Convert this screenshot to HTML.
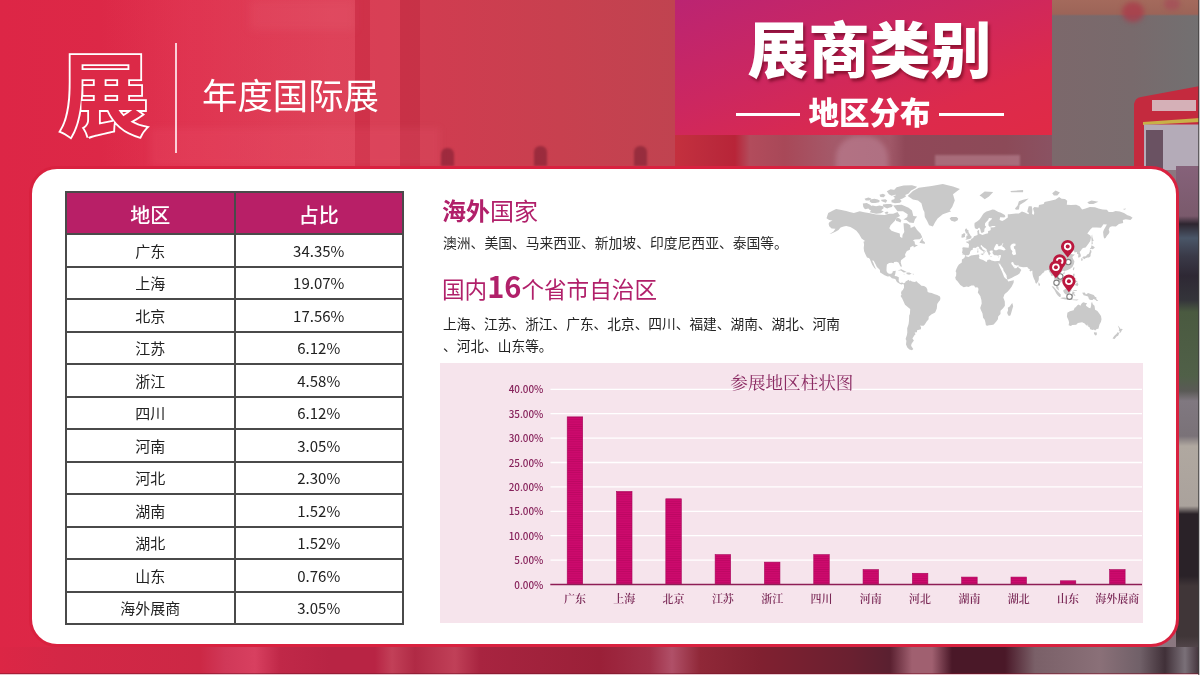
<!DOCTYPE html>
<html lang="zh-CN">
<head>
<meta charset="utf-8">
<title>展商类别 - 地区分布</title>
<style>
*{margin:0;padding:0;box-sizing:border-box;}
html,body{width:1200px;height:675px;overflow:hidden;background:#d8304a;}
body{position:relative;font-family:"Liberation Sans","Noto Sans CJK SC",sans-serif;}
.abs{position:absolute;}
#bg{left:0;top:0;width:1200px;height:675px;overflow:hidden;
 background:linear-gradient(90deg,#dd2646 0px,#dc2a48 200px,#d83850 330px,#d03c50 430px,#c8404f 560px,#c04350 675px,#b0545f 800px,#9a6a74 950px,#8e7680 1060px,#8a7880 1200px);}
.bgpart{position:absolute;}
.pillar{position:absolute;top:0;height:170px;}
#title-box{left:675px;top:0;width:377px;height:135px;
 background:linear-gradient(160deg,#bb2472 0%,#cc2760 40%,#dc2a4c 75%,#e02a46 100%);}
#title-main{left:681px;top:1.5px;width:377px;text-align:center;color:#fff;font-family:"Noto Sans CJK SC",sans-serif;font-weight:900;font-size:61px;line-height:90px;letter-spacing:0px;text-shadow:2px 3px 3px rgba(90,0,20,.55);}
#title-sub{left:681px;top:91px;width:377px;text-align:center;color:#fff;font-family:"Noto Sans CJK SC",sans-serif;font-weight:900;font-size:30.5px;line-height:40px;}
.tline{position:absolute;height:3px;background:#fff;top:113px;}
#big-zhan{left:57px;top:23px;font-family:"Noto Sans CJK SC",sans-serif;font-weight:700;font-size:94px;line-height:130px;color:transparent;-webkit-text-stroke:1.9px #fff;}
#vline{left:175px;top:43px;width:1.5px;height:110px;background:rgba(255,235,240,.85);}
#sub-title{left:202px;top:68.5px;font-family:"Noto Sans CJK SC",sans-serif;font-weight:400;font-size:35.4px;line-height:50px;color:#fff;}
#card{left:29px;top:166px;width:1150px;height:481px;background:#fff;border:3px solid #d9213f;border-radius:28px;}
table{position:absolute;left:65px;top:191px;border-collapse:collapse;font-family:"Noto Sans CJK SC",sans-serif;}
td,th{border:2px solid #4a4a4a;text-align:center;font-size:15px;color:#222;height:32.5px;padding:0;font-weight:400;}
th{background:#b81f67;color:#fff;font-size:20px;height:42px;font-weight:500;padding-top:2px;}
.c1{width:168.5px;}.c2{width:168.5px;}
.magenta{color:#b1206a;}
#h-overseas{left:442px;top:192px;font-family:"Noto Sans CJK SC",sans-serif;font-size:24px;line-height:36px;color:#b1206a;}
#h-overseas b{font-weight:700;}
#p-overseas{left:443px;top:232px;font-family:"Noto Sans CJK SC",sans-serif;font-size:13.8px;white-space:nowrap;line-height:20px;color:#2a2a2a;}
#h-domestic{left:442px;top:266px;font-family:"Noto Sans CJK SC",sans-serif;font-size:22.6px;white-space:nowrap;line-height:38px;color:#b1206a;}
#h-domestic b{font-size:29px;font-weight:700;}
#p-domestic{left:443px;top:311.5px;white-space:nowrap;font-family:"Noto Sans CJK SC",sans-serif;font-size:13.7px;line-height:22px;color:#222;}
#chart{left:440px;top:362.5px;width:703px;height:260px;background:#f6e4ec;}
#map{left:0;top:0;}
</style>
</head>
<body>
<div id="bg" class="abs">
 <div class="bgpart" style="left:100px;top:0;width:255px;height:166px;background:linear-gradient(90deg,rgba(236,90,112,0) 0%,rgba(236,90,112,.22) 35%,rgba(236,90,112,.3) 100%)"></div>
 <div class="bgpart" style="left:250px;top:0;width:105px;height:30px;background:rgba(240,120,140,.12);filter:blur(4px)"></div>
 <div class="bgpart" style="left:355px;top:0;width:15px;height:166px;background:rgba(185,25,50,.22)"></div>
 <div class="bgpart" style="left:370px;top:0;width:30px;height:166px;background:rgba(236,90,112,.18)"></div>
 <div class="bgpart" style="left:400px;top:0;width:20px;height:166px;background:rgba(170,20,45,.25)"></div>
 <div class="bgpart" style="left:150px;top:128px;width:290px;height:38px;background:rgba(240,110,130,.13);filter:blur(3px)"></div>
 <div class="bgpart" style="left:441px;top:148px;width:13px;height:18px;border-radius:6px 6px 0 0;background:rgba(100,20,40,.45);filter:blur(1px)"></div>
 <div class="bgpart" style="left:534px;top:146px;width:13px;height:20px;border-radius:6px 6px 0 0;background:rgba(100,20,40,.45);filter:blur(1px)"></div>
 <div class="bgpart" style="left:634px;top:146px;width:13px;height:20px;border-radius:6px 6px 0 0;background:rgba(100,20,40,.45);filter:blur(1px)"></div>
 <div class="bgpart" style="left:1052px;top:0;width:148px;height:166px;background:linear-gradient(180deg,#a46a5c 0px,#9c6458 14px,rgba(0,0,0,0) 16px),linear-gradient(90deg,#7c686b 0px,#786a6c 80px,#727071 148px)"></div>
 <div class="bgpart" style="left:1122px;top:2px;width:22px;height:20px;border-radius:10px;background:rgba(170,60,75,.8);filter:blur(2.5px)"></div>
 <div class="bgpart" style="left:1164px;top:-2px;width:16px;height:12px;border-radius:6px;background:rgba(165,75,88,.7);filter:blur(2px)"></div>
 <svg class="bgpart" style="left:1120px;top:80px" width="80" height="90" viewBox="1120 80 80 90">
  <path d="M1134 170 L1134 104 Q1135 98 1141 97 L1200 86 L1200 170 Z" fill="#c42a3e"/>
  <rect x="1152" y="100" width="44" height="11" fill="#d8c8cc" opacity=".85"/>
  <path d="M1143 122 L1200 118 L1200 122 L1143 125 Z" fill="#c8b048"/>
  <rect x="1144" y="124.5" width="56" height="46" fill="#b4abb8"/>
  <rect x="1146" y="130" width="17" height="40" fill="#6a5262"/>
 </svg>
 <div class="bgpart" style="left:675px;top:135px;width:377px;height:31px;background:linear-gradient(90deg,#c4303e 0px,#bb2a3c 35px,#b82438 60px,#b24c5c 75px,#a84858 110px,#a45a6a 160px,#a05868 215px,#904858 230px,#8c4a58 330px,#8a5262 377px)"></div>
 <div class="bgpart" style="left:836px;top:136px;width:52px;height:40px;border-radius:22px 22px 4px 4px;background:rgba(200,150,170,.4);filter:blur(2.5px)"></div>
 <div class="bgpart" style="left:935px;top:155px;width:85px;height:11px;background:rgba(200,150,165,.45);filter:blur(1px)"></div>
  <div class="bgpart" style="left:1176px;top:166px;width:24px;height:481px;background:linear-gradient(180deg,#86627a 0px,#7a5a6c 50px,#2e2630 58px,#4a5668 72px,#3a3a48 90px,#2e2834 110px,#34343a 134px,#4a5a40 146px,#506048 210px,#5a5a56 225px,#807880 235px,#7a7278 270px,#b0a8a0 280px,#aaa29c 340px,#2a2228 348px,#2a2228 410px,#403638 420px,#403638 470px,#504448 481px)"></div>
 <div class="bgpart" style="left:0;top:647px;width:1200px;height:28px;background:linear-gradient(90deg,#dc2645 0px,#d42746 60px,#cc2845 200px,#d03858 225px,#d84060 255px,#c02848 280px,#b82444 330px,#b82444 375px,#c24058 392px,#b02a45 415px,#c04058 455px,#a82440 480px,#9a2038 600px,#a03048 650px,#b05068 672px,#902838 700px,#802030 760px,#6a2030 850px,#5a2030 890px,#a06070 912px,#a06070 932px,#4a1828 952px,#4a1828 1005px,#7a6068 1035px,#8a7078 1100px,#706068 1140px,#403038 1165px,#7a7078 1185px,#403038 1200px)"></div>
 <div class="bgpart" style="left:0;top:673px;width:1200px;height:1px;background:rgba(120,20,40,.5)"></div>
 <div class="bgpart" style="left:0;top:674px;width:1200px;height:1px;background:#e8c8d0"></div>
 <div class="bgpart" style="left:1198px;top:0;width:1px;height:675px;background:rgba(60,60,60,.7)"></div>
 <div class="bgpart" style="left:1199px;top:0;width:1px;height:675px;background:#c4c2c4"></div>
</div>
<div id="title-box" class="abs"></div>
<div id="title-main" class="abs">展商类别</div>
<div class="tline" style="left:735.5px;width:64px"></div>
<div class="tline" style="left:939px;width:65px"></div>
<div id="title-sub" class="abs">地区分布</div>
<svg class="abs" style="left:0;top:0" width="200" height="170" viewBox="0 0 200 170"><text id="zhan-svg" x="59" y="127.5" font-family="Noto Sans CJK SC, sans-serif" font-weight="700" font-size="90" fill="#dc2947" stroke="#ffffff" stroke-width="3.6" stroke-linejoin="miter" paint-order="stroke">展</text></svg>
<div id="vline" class="abs"></div>
<div id="sub-title" class="abs">年度国际展</div>
<div id="card" class="abs"></div>
<table>
<tr><th class="c1">地区</th><th class="c2">占比</th></tr>
<tr><td>广东</td><td>34.35%</td></tr>
<tr><td>上海</td><td>19.07%</td></tr>
<tr><td>北京</td><td>17.56%</td></tr>
<tr><td>江苏</td><td>6.12%</td></tr>
<tr><td>浙江</td><td>4.58%</td></tr>
<tr><td>四川</td><td>6.12%</td></tr>
<tr><td>河南</td><td>3.05%</td></tr>
<tr><td>河北</td><td>2.30%</td></tr>
<tr><td>湖南</td><td>1.52%</td></tr>
<tr><td>湖北</td><td>1.52%</td></tr>
<tr><td>山东</td><td>0.76%</td></tr>
<tr><td>海外展商</td><td>3.05%</td></tr>
</table>
<div id="h-overseas" class="abs"><b>海外</b>国家</div>
<div id="p-overseas" class="abs">澳洲、美国、马来西亚、新加坡、印度尼西亚、泰国等。</div>
<div id="h-domestic" class="abs">国内<b>16</b>个省市自治区</div>
<div id="p-domestic" class="abs">上海、江苏、浙江、广东、北京、四川、福建、湖南、湖北、河南<br>、河北、山东等。</div>
<svg id="map" class="abs" width="1200" height="675" viewBox="0 0 1200 675">
<path fill="#c9c9c9" d="M826.5 218.3L828.2 213.1L832.5 210.7L836.1 209.0L840.2 209.8L846.2 211.0L849.6 211.9L853.9 212.9L859.8 211.2L864.1 212.2L870.1 213.2L876.1 214.5L884.6 214.9L888.9 213.7L893.2 213.7L897.5 212.1L900.0 216.1L896.6 217.7L894.9 220.8L890.6 225.2L889.3 228.3L891.5 230.8L894.9 232.1L899.8 233.4L900.0 236.7L902.2 237.9L902.6 234.8L904.3 232.1L903.9 228.7L903.5 223.3L906.9 223.3L910.3 225.2L910.7 228.0L914.6 226.2L917.1 230.1L920.5 233.4L922.3 237.3L919.7 239.2L914.6 239.6L912.9 240.7L914.6 241.6L915.0 244.4L918.0 245.2L913.9 247.4L913.3 245.8L910.3 247.3L909.8 249.7L906.9 251.0L905.6 253.2L905.0 254.8L905.6 256.8L903.5 258.2L901.0 260.2L900.7 262.5L901.7 265.8L901.4 267.2L900.2 266.0L899.4 264.3L898.5 262.4L896.6 261.8L894.0 261.9L893.7 263.3L891.5 262.7L889.1 262.9L886.9 264.5L886.6 267.4L886.5 270.4L887.0 272.3L888.9 273.7L891.1 273.7L892.3 273.1L892.8 271.3L895.8 270.8L895.3 273.8L894.6 276.0L896.6 276.2L898.8 277.2L898.7 281.1L900.0 283.0L902.2 282.6L903.9 283.4L904.1 284.1L903.0 283.9L901.3 284.6L899.6 283.7L896.9 282.0L895.3 279.1L891.9 278.2L889.8 276.2L887.6 276.5L884.6 275.3L879.9 272.3L880.1 270.8L879.5 269.4L876.9 266.9L875.7 264.5L873.7 260.7L872.1 260.5L873.5 263.3L874.4 265.8L876.1 269.4L874.4 267.9L872.2 264.8L870.5 260.7L869.8 259.1L868.8 258.1L867.0 257.4L865.4 254.3L864.1 251.2L863.7 248.1L864.1 244.4L863.5 241.8L865.0 241.0L861.6 238.6L859.0 234.1L856.4 230.8L853.4 228.7L850.4 227.1L846.2 226.1L843.6 226.6L840.6 227.6L838.5 230.1L835.9 231.5L831.6 233.4L829.5 234.1L833.3 231.7L835.5 228.7L831.6 228.6L829.2 226.2L828.6 223.8L829.5 222.0L832.5 220.5L829.1 220.0ZM907.7 196.0L912.9 191.1L918.8 187.7L931.7 185.9L942.8 184.0L953.0 186.6L959.9 188.9L953.0 194.3L954.8 200.4L952.2 206.9L949.6 210.4L951.3 211.2L942.8 214.2L937.6 218.5L935.1 222.3L932.9 226.6L929.1 225.2L927.0 220.8L924.8 216.9L924.4 212.1L923.1 209.5L921.4 203.2L918.0 200.4L912.9 199.4ZM901.7 204.7L908.6 207.8L912.0 210.4L913.3 216.1L917.1 216.5L915.0 219.3L913.7 223.0L909.4 222.6L906.4 220.0L903.5 219.6L907.3 216.9L907.7 214.2L903.0 211.2L897.5 211.2L893.2 205.6L897.5 205.1ZM893.2 190.9L896.6 187.3L903.5 185.4L912.0 185.2L917.1 186.8L915.4 188.2L911.1 190.4L908.6 193.5L905.2 194.9L906.0 196.4L902.6 198.6L899.2 199.8L894.0 199.6L894.9 197.8L893.2 196.4L896.2 195.1L890.6 193.3ZM891.5 200.0L894.9 199.0L900.0 199.6L901.7 201.1L900.0 202.8L894.9 203.2L891.5 202.3ZM868.4 208.5L869.7 206.3L872.7 205.4L876.1 206.2L879.5 205.4L882.9 206.2L883.8 208.1L881.2 210.2L883.8 211.4L880.8 213.2L876.1 213.7L872.7 213.1L869.7 212.2L871.0 210.5L869.2 209.5ZM862.8 203.4L866.7 203.0L870.5 204.9L871.4 206.5L868.4 208.6L865.0 209.2L863.3 207.0ZM870.1 199.6L874.4 198.8L877.8 199.6L879.9 200.7L879.1 202.3L875.2 203.0L871.8 203.0L869.7 201.7ZM864.5 198.8L868.4 197.4L871.4 198.6L869.2 200.4L865.8 200.6ZM881.2 199.8L885.5 199.2L887.2 200.6L885.9 202.8L883.8 201.9L881.4 201.1ZM879.5 194.7L882.9 193.7L885.5 195.1L883.8 197.2L880.4 197.0ZM882.9 204.5L886.8 204.1L890.6 204.0L892.8 204.9L891.9 207.0L888.9 207.8L887.2 208.5L885.1 207.4L882.9 206.3ZM884.6 212.4L887.2 211.4L888.5 212.6L887.2 213.9L885.1 213.5ZM895.8 219.3L897.0 217.7L899.2 218.2L901.3 220.3L900.5 222.6L898.3 221.5L896.2 220.9ZM886.8 191.3L890.6 189.3L894.9 190.0L896.6 192.6L894.5 195.1L891.5 195.8L888.9 194.3ZM919.4 242.7L922.7 237.8L922.8 240.4L924.8 242.3L925.1 243.8L922.7 243.6ZM897.6 270.5L901.3 269.2L904.3 270.7L906.7 272.1L903.7 272.4L900.9 270.6ZM906.5 272.4L909.4 272.4L911.7 273.7L909.1 274.7L906.5 273.9ZM903.2 273.9L905.0 274.2L904.3 274.6ZM912.7 273.8L914.1 274.0L913.7 274.4L912.7 274.3ZM904.0 283.2L905.2 282.5L905.6 281.4L906.9 280.8L909.0 279.7L909.3 281.1L908.9 281.5L910.3 280.5L912.0 281.4L914.6 281.9L916.7 281.3L918.0 283.0L919.0 283.6L921.4 285.8L924.0 286.0L925.7 287.0L926.5 287.7L927.4 289.8L927.4 291.5L928.7 292.4L931.7 292.9L934.7 294.2L937.2 295.0L940.0 296.4L940.4 298.3L940.1 300.0L938.5 301.9L937.2 303.9L936.8 308.4L935.9 310.7L935.1 312.6L933.2 313.6L931.3 314.4L928.7 316.7L928.6 319.2L926.5 321.8L924.8 324.4L923.5 325.8L921.8 325.8L920.1 325.5L921.1 327.4L920.9 329.3L917.1 330.3L916.9 332.3L914.6 332.6L915.6 334.2L914.6 335.1L912.4 338.4L913.9 340.5L911.7 343.4L911.1 345.2L911.5 346.4L913.3 348.9L912.0 350.2L909.4 349.6L907.3 347.6L906.0 344.4L906.4 340.7L905.6 338.9L906.9 334.9L907.3 332.6L907.2 328.2L908.6 323.9L909.0 320.7L909.2 315.6L909.9 314.1L910.2 309.0L908.6 307.7L905.0 304.8L903.8 301.9L902.2 298.6L900.6 295.9L901.5 294.7L901.0 292.9L901.7 290.7L902.7 290.2L904.0 287.7L904.0 285.3L903.5 284.6ZM965.1 256.1L968.4 256.9L971.0 255.4L974.4 255.0L978.5 254.5L979.5 254.8L978.9 255.9L979.6 256.8L978.7 257.8L980.0 259.0L983.1 259.9L986.4 261.9L987.3 261.0L987.2 260.1L989.8 259.5L991.5 260.6L994.9 261.3L997.8 260.9L999.4 260.9L1000.0 262.8L999.4 264.5L998.0 262.4L999.0 265.1L1000.5 268.4L1001.9 271.3L1003.1 274.3L1004.1 277.1L1005.8 278.8L1007.2 279.6L1008.2 281.6L1010.3 281.0L1013.9 280.3L1013.7 281.5L1013.6 282.8L1011.6 286.8L1009.5 289.6L1007.3 292.0L1005.6 293.2L1004.4 294.6L1003.3 297.7L1003.9 299.1L1004.8 301.5L1004.9 305.8L1003.1 308.2L1000.5 310.7L1000.5 314.1L998.2 316.6L997.9 319.2L996.5 321.3L993.7 324.4L991.9 324.9L989.0 325.2L987.2 325.8L985.9 325.2L985.5 322.8L984.7 319.7L983.1 317.7L982.5 313.6L980.8 309.7L980.2 307.9L981.7 303.4L981.4 300.0L980.6 297.2L980.4 296.2L977.8 292.4L978.3 290.6L978.5 288.7L977.4 287.2L975.3 287.4L974.0 285.5L971.4 285.6L968.4 287.0L966.7 286.6L963.7 287.3L962.2 286.3L960.3 285.0L958.8 283.1L957.3 281.1L955.9 279.7L955.2 277.5L956.1 275.8L956.3 272.8L955.6 271.3L956.5 268.7L957.7 266.3L958.9 264.6L961.8 262.6L961.9 259.6L964.3 257.9ZM1012.3 302.9L1013.2 306.3L1012.7 307.7L1011.2 313.1L1010.4 315.5L1008.8 316.1L1007.5 314.1L1007.2 312.4L1008.1 310.2L1007.8 307.7L1009.7 306.6L1011.2 304.3ZM965.4 255.9L964.7 255.0L963.8 254.6L962.5 254.8L962.6 253.0L962.0 252.9L962.6 249.8L962.2 248.1L963.3 247.3L965.9 247.6L968.6 247.7L969.1 244.6L968.2 243.2L966.3 242.4L966.3 241.5L968.8 241.4L968.5 240.2L970.3 240.4L971.5 238.7L973.1 237.9L974.0 236.2L976.1 235.4L977.6 234.9L977.5 232.8L977.2 231.0L979.1 229.8L979.1 232.0L979.4 233.7L980.8 234.2L982.4 234.9L986.0 233.7L988.1 233.2L988.1 231.0L990.2 230.5L990.9 228.9L990.2 227.6L994.1 227.3L995.8 226.6L994.5 225.9L992.4 226.1L989.7 226.9L988.4 225.2L988.6 222.3L991.7 219.3L992.0 218.2L989.0 218.0L988.1 220.0L986.4 221.8L985.1 223.3L984.9 225.6L986.2 226.8L984.5 228.7L984.2 231.7L982.4 232.8L981.2 232.8L980.8 231.5L980.2 229.1L979.1 227.6L977.2 229.3L974.9 228.2L974.4 225.2L974.6 223.0L977.4 221.2L979.5 219.4L981.3 216.9L982.5 214.9L983.8 213.2L986.4 211.6L989.8 210.4L992.4 209.5L994.5 209.7L996.6 210.9L998.4 212.1L1000.9 212.7L1004.8 214.9L1005.4 216.5L1004.3 217.4L1000.1 217.2L999.6 220.0L1002.2 221.1L1004.3 220.0L1007.8 217.4L1007.8 214.2L1009.5 214.2L1015.9 213.5L1018.9 213.5L1021.9 211.6L1024.9 212.6L1028.3 214.2L1029.1 213.1L1027.3 211.9L1027.7 209.8L1028.7 206.3L1031.7 206.3L1032.4 209.5L1032.1 213.7L1033.4 214.9L1034.3 212.9L1033.0 208.5L1034.3 206.9L1038.5 207.4L1039.0 204.9L1043.7 204.1L1044.5 202.1L1051.4 200.4L1055.6 199.4L1059.1 197.0L1061.6 198.8L1065.0 199.0L1067.2 200.7L1066.8 204.7L1071.0 205.1L1076.2 204.7L1079.6 206.3L1082.1 209.5L1085.6 208.5L1089.8 207.0L1095.0 207.2L1098.4 208.6L1102.7 209.5L1106.9 209.8L1108.7 211.9L1112.9 211.9L1115.5 211.0L1119.8 211.6L1124.0 213.1L1127.5 215.3L1130.0 216.1L1132.6 217.7L1130.5 220.0L1125.8 219.3L1122.8 220.0L1123.2 223.0L1118.9 224.1L1115.9 226.6L1112.1 226.2L1109.9 226.9L1108.7 229.4L1109.5 231.9L1108.7 233.7L1106.9 235.8L1105.6 237.9L1104.1 238.6L1103.5 236.0L1103.1 232.1L1103.9 229.7L1106.9 224.5L1103.5 224.3L1101.0 227.8L1096.7 227.6L1092.4 227.6L1090.3 229.4L1087.3 233.4L1090.3 235.4L1091.0 237.3L1090.3 241.0L1088.6 243.5L1085.6 247.6L1083.0 247.9L1081.9 248.9L1081.0 250.4L1079.6 251.9L1080.8 254.8L1080.8 256.5L1079.2 257.4L1078.1 257.5L1078.4 254.3L1077.2 254.0L1076.8 252.0L1074.5 252.6L1074.0 250.6L1071.9 252.4L1070.8 253.2L1071.7 254.3L1074.9 254.4L1072.3 257.0L1073.4 259.5L1074.4 261.3L1074.0 263.8L1072.4 266.9L1070.2 268.8L1067.2 270.2L1064.6 271.1L1064.4 272.0L1063.9 270.8L1062.5 270.8L1061.3 272.1L1060.5 273.6L1061.6 275.3L1063.2 276.9L1063.6 280.1L1063.3 280.7L1061.6 281.6L1059.9 283.3L1059.7 281.7L1058.2 281.1L1057.8 279.8L1056.4 279.4L1055.6 278.7L1055.0 281.7L1055.9 283.6L1056.5 285.1L1057.5 285.6L1058.5 287.2L1058.6 288.9L1059.3 290.2L1058.6 290.3L1056.8 288.8L1056.0 286.9L1055.8 285.4L1054.2 283.7L1054.4 281.5L1054.4 279.1L1053.7 275.8L1052.6 275.7L1051.0 275.8L1050.8 274.0L1049.7 272.4L1049.1 271.6L1048.6 270.1L1047.6 269.9L1046.2 270.6L1044.5 270.8L1044.1 272.3L1042.7 273.0L1040.5 275.6L1038.8 276.4L1038.8 278.9L1038.4 281.1L1037.9 281.7L1037.0 283.1L1036.4 283.8L1035.5 283.1L1034.9 280.6L1034.0 279.1L1033.0 276.2L1032.4 273.3L1032.4 271.2L1032.2 270.5L1030.3 271.5L1029.2 270.1L1030.4 269.4L1028.6 268.8L1027.2 267.0L1023.1 267.2L1019.2 266.6L1018.4 265.2L1016.3 265.6L1014.2 264.4L1013.0 262.0L1011.6 262.3L1011.2 263.3L1011.9 264.7L1013.1 266.1L1013.6 267.6L1014.3 266.2L1014.2 268.2L1016.3 268.3L1018.4 266.0L1018.4 267.5L1020.2 268.8L1021.3 270.0L1020.2 271.9L1019.5 273.4L1017.4 275.0L1014.6 276.2L1012.0 277.7L1008.6 279.3L1007.3 279.4L1006.7 277.2L1006.6 275.5L1005.0 272.8L1003.6 270.8L1003.1 268.6L1001.9 266.9L1000.2 264.2L1000.0 262.8L999.4 260.9L1000.1 259.1L1000.8 256.8L1001.1 255.3L999.8 255.0L997.9 255.8L996.3 255.2L994.5 255.2L993.5 254.4L992.6 253.2L992.5 252.1L993.0 251.1L992.4 250.6L990.7 250.6L989.8 251.2L989.5 251.0L989.7 252.2L990.7 253.5L989.8 254.4L989.4 255.5L988.7 254.9L988.2 253.4L987.4 252.0L986.7 251.1L986.7 249.5L986.0 248.8L984.7 247.9L983.1 246.7L981.9 245.7L981.7 245.0L980.7 245.3L980.8 246.7L981.8 247.6L982.6 249.2L983.9 250.0L986.0 251.3L985.8 251.7L984.7 251.0L984.2 252.1L984.8 252.7L983.8 253.7L983.5 253.4L983.6 251.5L982.5 250.9L980.8 249.8L979.5 248.7L978.9 247.1L977.7 246.5L976.6 247.2L975.4 248.0L974.1 247.7L972.8 248.0L972.9 249.4L970.9 250.4L970.1 252.1L969.9 253.2L969.5 254.2L968.3 255.2L966.4 255.2ZM965.3 239.7L967.1 239.4L969.3 238.9L971.3 238.3L971.6 236.4L970.4 235.5L970.0 234.5L968.8 232.7L968.3 230.8L968.6 230.0L967.1 229.8L966.7 228.6L965.9 228.6L964.8 230.1L965.4 231.7L966.0 233.4L967.6 233.6L967.2 234.4L967.7 235.7L966.2 235.7L966.5 236.9L965.6 237.6L967.2 238.1L966.5 238.3ZM965.0 237.1L964.9 235.4L965.4 234.0L964.0 233.0L962.9 234.0L961.6 234.5L961.7 235.5L961.3 237.2L962.0 237.8L963.3 237.6ZM951.3 220.8L949.6 218.5L951.3 217.1L956.5 216.9L958.2 218.5L957.7 220.2L954.8 221.7ZM977.3 250.4L978.4 250.4L978.3 252.4L977.4 252.7ZM978.0 248.1L978.3 249.0L978.0 250.0L977.5 249.6ZM980.7 253.7L983.5 253.5L983.1 255.2L980.7 254.2ZM990.2 256.3L992.6 256.8L990.7 257.1ZM997.8 257.0L999.7 256.2L998.4 257.4ZM1082.1 258.1L1083.4 256.6L1086.0 256.3L1087.1 254.6L1088.6 254.0L1089.8 251.7L1089.8 250.2L1091.1 250.0L1091.5 252.1L1090.7 253.7L1090.5 256.2L1089.7 257.1L1088.8 257.4L1087.3 257.4L1085.7 258.3L1083.0 258.3ZM1081.0 258.6L1082.1 258.2L1082.8 259.6L1082.1 261.0L1081.5 260.9ZM1083.4 258.2L1085.2 257.8L1085.0 258.8L1083.9 259.3ZM1089.8 249.8L1090.9 248.8L1092.7 249.3L1094.8 247.7L1094.1 246.7L1091.5 245.2L1091.0 247.8L1090.2 247.9ZM1091.5 244.6L1092.8 244.1L1092.4 241.0L1093.7 241.0L1092.4 237.3L1092.1 234.4L1091.7 235.4L1091.3 237.9L1091.7 241.6ZM1073.6 267.2L1074.5 267.4L1074.0 269.4L1073.4 270.5L1072.8 269.4ZM1063.0 273.1L1064.6 272.2L1065.0 272.7L1064.2 274.1L1063.1 273.8ZM1038.4 282.2L1039.6 283.4L1040.1 284.9L1039.1 285.9L1038.5 285.3ZM1073.3 273.8L1074.6 273.8L1074.5 275.8L1074.0 277.2L1074.5 278.2L1076.2 278.4L1076.2 279.6L1075.3 279.1L1074.0 278.4L1073.3 277.9L1072.7 276.2ZM1074.5 284.9L1075.7 284.1L1076.4 283.4L1077.4 282.2L1078.4 284.6L1077.9 285.6L1077.3 286.2L1076.2 285.5ZM1074.5 280.6L1076.2 280.8L1077.6 280.9L1077.0 282.0L1075.3 282.5L1074.5 281.5ZM1063.3 290.0L1064.2 289.9L1065.0 289.1L1066.8 288.5L1068.9 286.3L1070.2 284.9L1072.1 286.5L1071.0 287.3L1071.5 290.6L1070.6 291.5L1069.7 292.9L1069.3 295.1L1068.0 295.3L1065.5 294.3L1064.2 293.1L1063.4 291.5ZM1051.6 286.2L1053.5 286.6L1056.0 289.4L1058.8 292.4L1060.8 294.5L1060.6 297.0L1059.5 297.0L1057.6 295.3L1056.3 293.4L1054.5 289.9ZM1060.1 297.9L1062.8 297.6L1065.0 297.6L1068.0 298.8L1068.0 299.8L1064.2 299.2L1061.2 298.5ZM1072.2 296.7L1073.1 296.8L1073.4 294.0L1074.5 296.0L1075.5 295.9L1074.0 292.9L1075.6 292.4L1074.0 292.3L1073.0 291.2L1073.6 290.3L1076.4 290.1L1077.2 290.0L1076.2 291.0L1072.9 291.0L1072.4 292.3L1071.7 294.1ZM1082.1 292.7L1084.7 292.4L1086.0 294.6L1088.1 293.1L1090.7 294.0L1093.7 295.1L1095.0 296.7L1096.5 297.5L1096.3 299.1L1098.3 301.0L1096.7 301.1L1095.4 299.8L1093.4 298.9L1092.7 300.0L1090.7 300.1L1089.0 299.2L1088.1 296.6L1085.6 295.7L1083.6 295.3L1083.0 294.1ZM1068.5 299.4L1071.9 299.4L1075.3 299.6L1078.7 299.4L1077.0 300.5L1071.9 300.0L1069.3 300.0ZM1066.9 316.7L1067.4 312.6L1067.8 312.4L1069.9 311.3L1073.6 310.2L1074.7 307.7L1075.7 307.2L1077.4 305.3L1078.7 304.6L1080.4 305.7L1081.3 303.9L1082.1 303.1L1083.5 302.3L1085.6 303.0L1087.1 303.1L1086.3 304.3L1086.0 305.8L1088.0 307.2L1089.2 308.1L1090.4 308.2L1091.1 305.8L1091.2 303.5L1092.0 301.7L1092.8 304.3L1093.7 305.1L1094.5 305.8L1095.1 309.7L1097.4 311.1L1099.1 313.3L1101.0 316.1L1101.5 319.3L1101.0 321.8L1099.5 324.5L1098.4 328.7L1096.7 329.0L1095.2 330.4L1093.8 329.4L1092.8 330.1L1090.3 329.3L1089.4 326.9L1088.1 326.7L1088.5 325.5L1087.7 326.2L1087.3 324.4L1086.2 325.8L1085.6 324.4L1084.7 323.4L1082.1 322.3L1077.9 323.1L1076.2 324.7L1072.3 324.9L1070.9 326.0L1068.6 325.3L1069.1 322.6L1068.5 320.2ZM1093.9 332.3L1096.9 332.5L1096.7 334.9L1095.4 335.6L1094.1 334.0ZM1117.8 325.4L1119.3 327.1L1120.2 328.7L1122.8 328.9L1121.5 330.7L1121.3 331.5L1119.9 333.3L1119.4 332.8L1119.8 330.9L1118.7 330.6L1119.3 329.3L1118.1 326.2ZM1117.8 332.0L1119.2 333.3L1118.1 335.8L1116.5 336.6L1114.6 339.1L1112.5 338.4L1114.2 336.0L1116.8 333.4ZM1015.0 208.6L1017.6 205.4L1018.9 201.3L1023.1 199.8L1028.7 198.6L1024.9 201.7L1019.7 205.1L1018.9 209.5L1015.9 209.8ZM1052.2 193.3L1055.6 190.4L1059.9 192.6L1057.3 195.4L1053.9 195.4ZM1010.3 191.1L1023.1 190.0L1023.1 192.2L1011.2 192.2ZM979.5 195.4L984.7 191.5L993.2 192.0L989.0 196.4L984.7 199.2L981.3 196.4ZM1087.3 202.3L1091.5 200.4L1098.4 201.7L1093.3 204.1L1089.0 204.1ZM1122.8 209.0L1126.1 208.6L1124.9 209.7Z"/>
<path fill="#ffffff" d="M993.7 249.3L994.6 247.0L996.2 244.1L998.4 244.6L997.9 245.3L998.9 246.5L1000.1 245.8L1001.4 245.5L1002.6 243.3L1003.5 243.5L1002.6 244.6L1002.2 246.2L1004.3 247.7L1005.7 249.7L1003.9 250.4L1000.9 249.6L998.8 249.3L996.6 250.3L994.9 250.2L994.1 249.4ZM1010.3 246.4L1010.8 245.2L1012.0 244.1L1013.7 243.5L1015.5 243.7L1015.6 245.5L1013.7 246.4L1014.2 248.7L1015.3 249.5L1015.5 251.5L1016.2 254.3L1013.7 255.2L1012.5 254.3L1011.9 253.2L1012.5 251.2L1010.8 249.3Z"/>
<g transform="translate(1067.7,246.6)"><circle cx="0.6" cy="15.5" r="2.7" fill="#fff" stroke="#808080" stroke-width="1.1"/><path d="M-5.31 4.08A6.7 6.7 0 1 1 5.31 4.08L0 11Z" fill="#bb173e"/><circle r="3.8" fill="#fff"/><circle r="2.0" fill="#bb173e"/></g>
<g transform="translate(1059.7,261)"><circle cx="0.6" cy="15.5" r="2.7" fill="#fff" stroke="#808080" stroke-width="1.1"/><path d="M-5.31 4.08A6.7 6.7 0 1 1 5.31 4.08L0 11Z" fill="#bb173e"/><circle r="3.8" fill="#fff"/><circle r="2.0" fill="#bb173e"/></g>
<g transform="translate(1055.9,267.3)"><circle cx="0.6" cy="15.5" r="2.7" fill="#fff" stroke="#808080" stroke-width="1.1"/><path d="M-5.31 4.08A6.7 6.7 0 1 1 5.31 4.08L0 11Z" fill="#bb173e"/><circle r="3.8" fill="#fff"/><circle r="2.0" fill="#bb173e"/></g>
<g transform="translate(1068.9,281.2)"><circle cx="0.6" cy="15.5" r="2.7" fill="#fff" stroke="#808080" stroke-width="1.1"/><path d="M-5.31 4.08A6.7 6.7 0 1 1 5.31 4.08L0 11Z" fill="#bb173e"/><circle r="3.8" fill="#fff"/><circle r="2.0" fill="#bb173e"/></g>
</svg>
<div id="chart" class="abs"></div>
<svg class="abs" style="left:0;top:0" width="1200" height="675" viewBox="0 0 1200 675">
<defs><pattern id="stripe" width="4" height="2.2" patternUnits="userSpaceOnUse"><rect width="4" height="2.2" fill="#cd0a6d"/><rect y="1.6" width="4" height="0.6" fill="#b8065f"/></pattern></defs>
<line x1="550.5" y1="389.3" x2="1142" y2="389.3" stroke="#ffffff" stroke-width="1.3"/>
<line x1="550.5" y1="413.7" x2="1142" y2="413.7" stroke="#ffffff" stroke-width="1.3"/>
<line x1="550.5" y1="438.1" x2="1142" y2="438.1" stroke="#ffffff" stroke-width="1.3"/>
<line x1="550.5" y1="462.5" x2="1142" y2="462.5" stroke="#ffffff" stroke-width="1.3"/>
<line x1="550.5" y1="486.9" x2="1142" y2="486.9" stroke="#ffffff" stroke-width="1.3"/>
<line x1="550.5" y1="511.3" x2="1142" y2="511.3" stroke="#ffffff" stroke-width="1.3"/>
<line x1="550.5" y1="535.7" x2="1142" y2="535.7" stroke="#ffffff" stroke-width="1.3"/>
<line x1="550.5" y1="560.1" x2="1142" y2="560.1" stroke="#ffffff" stroke-width="1.3"/>
<text x="543.4" y="393.4" text-anchor="end" font-family="Noto Sans CJK SC, sans-serif" font-weight="500" font-size="9.9" fill="#86215a">40.00%</text>
<text x="543.4" y="417.8" text-anchor="end" font-family="Noto Sans CJK SC, sans-serif" font-weight="500" font-size="9.9" fill="#86215a">35.00%</text>
<text x="543.4" y="442.2" text-anchor="end" font-family="Noto Sans CJK SC, sans-serif" font-weight="500" font-size="9.9" fill="#86215a">30.00%</text>
<text x="543.4" y="466.6" text-anchor="end" font-family="Noto Sans CJK SC, sans-serif" font-weight="500" font-size="9.9" fill="#86215a">25.00%</text>
<text x="543.4" y="491.0" text-anchor="end" font-family="Noto Sans CJK SC, sans-serif" font-weight="500" font-size="9.9" fill="#86215a">20.00%</text>
<text x="543.4" y="515.4" text-anchor="end" font-family="Noto Sans CJK SC, sans-serif" font-weight="500" font-size="9.9" fill="#86215a">15.00%</text>
<text x="543.4" y="539.8" text-anchor="end" font-family="Noto Sans CJK SC, sans-serif" font-weight="500" font-size="9.9" fill="#86215a">10.00%</text>
<text x="543.4" y="564.2" text-anchor="end" font-family="Noto Sans CJK SC, sans-serif" font-weight="500" font-size="9.9" fill="#86215a">5.00%</text>
<text x="543.4" y="588.6" text-anchor="end" font-family="Noto Sans CJK SC, sans-serif" font-weight="500" font-size="9.9" fill="#86215a">0.00%</text>
<rect x="567.20" y="416.87" width="15.5" height="167.63" fill="url(#stripe)" stroke="#a8045a" stroke-width="0.6"/>
<text x="574.95" y="602.6" text-anchor="middle" font-family="Noto Serif CJK SC, serif" font-weight="600" font-size="11" fill="#7a2856">广东</text>
<rect x="616.51" y="491.44" width="15.5" height="93.06" fill="url(#stripe)" stroke="#a8045a" stroke-width="0.6"/>
<text x="624.26" y="602.6" text-anchor="middle" font-family="Noto Serif CJK SC, serif" font-weight="600" font-size="11" fill="#7a2856">上海</text>
<rect x="665.82" y="498.81" width="15.5" height="85.69" fill="url(#stripe)" stroke="#a8045a" stroke-width="0.6"/>
<text x="673.57" y="602.6" text-anchor="middle" font-family="Noto Serif CJK SC, serif" font-weight="600" font-size="11" fill="#7a2856">北京</text>
<rect x="715.13" y="554.63" width="15.5" height="29.87" fill="url(#stripe)" stroke="#a8045a" stroke-width="0.6"/>
<text x="722.88" y="602.6" text-anchor="middle" font-family="Noto Serif CJK SC, serif" font-weight="600" font-size="11" fill="#7a2856">江苏</text>
<rect x="764.44" y="562.15" width="15.5" height="22.35" fill="url(#stripe)" stroke="#a8045a" stroke-width="0.6"/>
<text x="772.19" y="602.6" text-anchor="middle" font-family="Noto Serif CJK SC, serif" font-weight="600" font-size="11" fill="#7a2856">浙江</text>
<rect x="813.75" y="554.63" width="15.5" height="29.87" fill="url(#stripe)" stroke="#a8045a" stroke-width="0.6"/>
<text x="821.50" y="602.6" text-anchor="middle" font-family="Noto Serif CJK SC, serif" font-weight="600" font-size="11" fill="#7a2856">四川</text>
<rect x="863.05" y="569.62" width="15.5" height="14.88" fill="url(#stripe)" stroke="#a8045a" stroke-width="0.6"/>
<text x="870.80" y="602.6" text-anchor="middle" font-family="Noto Serif CJK SC, serif" font-weight="600" font-size="11" fill="#7a2856">河南</text>
<rect x="912.36" y="573.28" width="15.5" height="11.22" fill="url(#stripe)" stroke="#a8045a" stroke-width="0.6"/>
<text x="920.11" y="602.6" text-anchor="middle" font-family="Noto Serif CJK SC, serif" font-weight="600" font-size="11" fill="#7a2856">河北</text>
<rect x="961.67" y="577.08" width="15.5" height="7.42" fill="url(#stripe)" stroke="#a8045a" stroke-width="0.6"/>
<text x="969.42" y="602.6" text-anchor="middle" font-family="Noto Serif CJK SC, serif" font-weight="600" font-size="11" fill="#7a2856">湖南</text>
<rect x="1010.98" y="577.08" width="15.5" height="7.42" fill="url(#stripe)" stroke="#a8045a" stroke-width="0.6"/>
<text x="1018.73" y="602.6" text-anchor="middle" font-family="Noto Serif CJK SC, serif" font-weight="600" font-size="11" fill="#7a2856">湖北</text>
<rect x="1060.29" y="580.79" width="15.5" height="3.71" fill="url(#stripe)" stroke="#a8045a" stroke-width="0.6"/>
<text x="1068.04" y="602.6" text-anchor="middle" font-family="Noto Serif CJK SC, serif" font-weight="600" font-size="11" fill="#7a2856">山东</text>
<rect x="1109.60" y="569.62" width="15.5" height="14.88" fill="url(#stripe)" stroke="#a8045a" stroke-width="0.6"/>
<text x="1117.35" y="602.6" text-anchor="middle" font-family="Noto Serif CJK SC, serif" font-weight="600" font-size="11" fill="#7a2856">海外展商</text>
<line x1="550.3" y1="584.5" x2="1142" y2="584.5" stroke="#8e1d55" stroke-width="1.6"/>
<text x="730.3" y="389.3" font-family="Noto Serif CJK SC, serif" font-size="17.6" fill="#8a2a62">参展地区柱状图</text>
</svg>
</body>
</html>
